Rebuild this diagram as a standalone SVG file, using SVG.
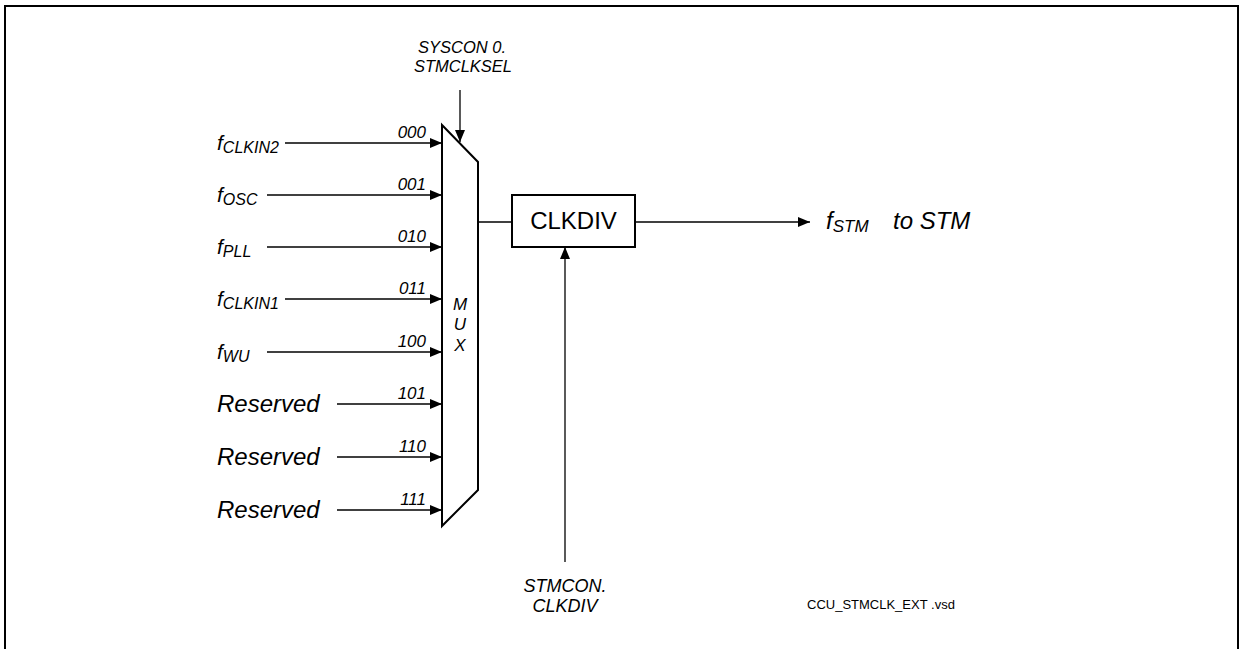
<svg xmlns="http://www.w3.org/2000/svg" width="1239" height="649" viewBox="0 0 1239 649">
<style>
.t{font-family:"Liberation Sans",Arial,sans-serif;font-style:italic;fill:#000}
.n{font-family:"Liberation Sans",Arial,sans-serif;fill:#000}
.ln{stroke:#000;stroke-width:1.3;fill:none}
.sh{stroke:#000;stroke-width:2;fill:#fff}
.c{font-size:17px;text-anchor:end}
</style>
<defs>
<marker id="ah" markerWidth="12" markerHeight="10" refX="12" refY="5" orient="auto" markerUnits="userSpaceOnUse">
<path d="M0,0 L12,5 L0,10 Z" fill="#000"/>
</marker>
</defs>
<rect x="0" y="0" width="1239" height="649" fill="#fff"/>
<rect x="5" y="6" width="1233" height="660" fill="none" stroke="#000" stroke-width="2"/>

<g id="connectors">
<line class="ln" x1="285" y1="143" x2="442" y2="143" marker-end="url(#ah)"/>
<line class="ln" x1="267" y1="195" x2="442" y2="195" marker-end="url(#ah)"/>
<line class="ln" x1="267" y1="247" x2="442" y2="247" marker-end="url(#ah)"/>
<line class="ln" x1="285" y1="299" x2="442" y2="299" marker-end="url(#ah)"/>
<line class="ln" x1="267" y1="352" x2="442" y2="352" marker-end="url(#ah)"/>
<line class="ln" x1="337" y1="404" x2="442" y2="404" marker-end="url(#ah)"/>
<line class="ln" x1="337" y1="457" x2="442" y2="457" marker-end="url(#ah)"/>
<line class="ln" x1="337" y1="510" x2="442" y2="510" marker-end="url(#ah)"/>
<line class="ln" x1="460" y1="90" x2="460" y2="142" marker-end="url(#ah)"/>
<line class="ln" x1="478" y1="222" x2="512" y2="222"/>
<line class="ln" x1="635" y1="222" x2="810" y2="222" marker-end="url(#ah)"/>
<line class="ln" x1="565" y1="562" x2="565" y2="247" marker-end="url(#ah)"/>
</g>

<g id="mux">
<path class="sh" d="M442,125 L478,162 L478,490 L442,526 Z"/>
<text class="t" x="460" y="310" font-size="17" text-anchor="middle">M</text>
<text class="t" x="460" y="330" font-size="17" text-anchor="middle">U</text>
<text class="t" x="460" y="351" font-size="17" text-anchor="middle">X</text>
</g>

<g id="clkdiv">
<rect class="sh" x="512" y="195" width="123" height="52"/>
<text class="n" x="573.5" y="229" font-size="24" text-anchor="middle">CLKDIV</text>
</g>

<g id="inputs">
<text class="t" x="217" y="150" font-size="21">f<tspan font-size="16" dy="3">CLKIN2</tspan></text>
<text class="t" x="217" y="202" font-size="21">f<tspan font-size="16" dy="3">OSC</tspan></text>
<text class="t" x="217" y="254" font-size="21">f<tspan font-size="16" dy="3">PLL</tspan></text>
<text class="t" x="217" y="306" font-size="21">f<tspan font-size="16" dy="3">CLKIN1</tspan></text>
<text class="t" x="217" y="359" font-size="21">f<tspan font-size="16" dy="3">WU</tspan></text>
<text class="t" x="217" y="412" font-size="24">Reserved</text>
<text class="t" x="217" y="465" font-size="24">Reserved</text>
<text class="t" x="217" y="518" font-size="24">Reserved</text>
</g>

<g id="codes">
<text class="t c" x="426" y="138">000</text>
<text class="t c" x="426" y="190">001</text>
<text class="t c" x="426" y="242">010</text>
<text class="t c" x="426" y="294">011</text>
<text class="t c" x="426" y="347">100</text>
<text class="t c" x="426" y="399">101</text>
<text class="t c" x="426" y="452">110</text>
<text class="t c" x="426" y="505">111</text>
</g>

<g id="sel-label">
<text class="t" x="462" y="53" font-size="16.5" text-anchor="middle">SYSCON 0.</text>
<text class="t" x="463" y="72" font-size="16.5" text-anchor="middle">STMCLKSEL</text>
</g>

<g id="div-label">
<text class="t" x="565" y="592" font-size="18" text-anchor="middle">STMCON.</text>
<text class="t" x="565" y="612" font-size="18" text-anchor="middle">CLKDIV</text>
</g>

<g id="output">
<text class="t" x="826" y="229" font-size="24">f<tspan font-size="17" dy="3">STM</tspan></text>
<text class="t" x="893" y="229" font-size="24">to STM</text>
</g>

<text class="n" x="807" y="609" font-size="13">CCU_STMCLK_EXT .vsd</text>
</svg>
